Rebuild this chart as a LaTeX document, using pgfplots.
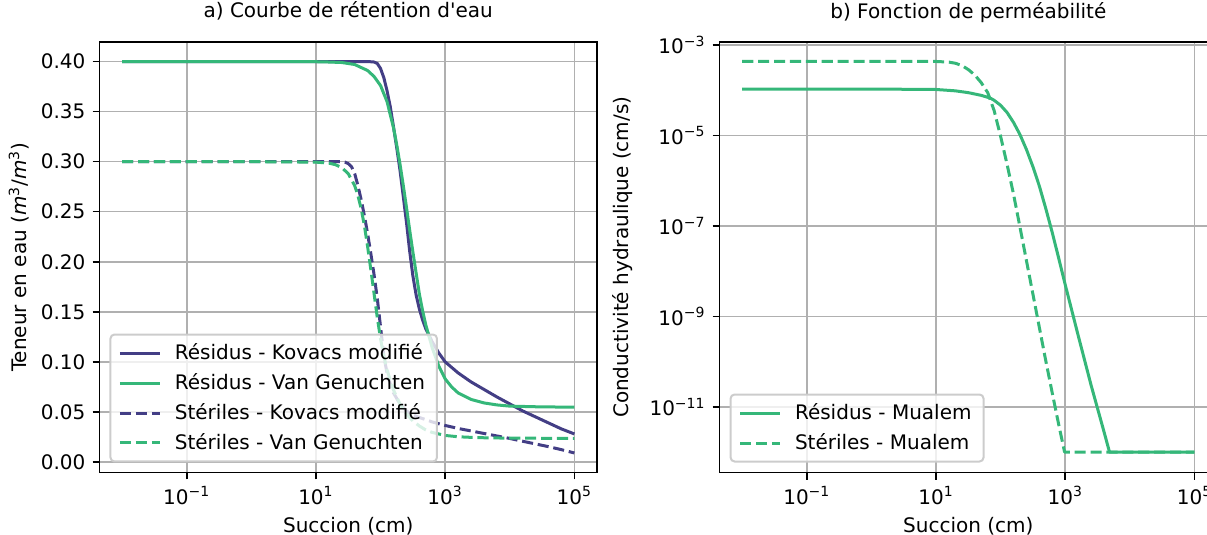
\documentclass[border=0pt]{standalone}
\usepackage{fontspec}
\setmainfont{DejaVu Sans}[Ligatures=TeXOff]
\usepackage{pgfplots}
\pgfplotsset{compat=1.18}
\definecolor{cpurple}{HTML}{433E85}
\definecolor{cgreen}{HTML}{35B779}
\definecolor{cgrid}{HTML}{B0B0B0}
\definecolor{cleg}{HTML}{CCCCCC}
\tikzset{
  solidline/.style={line width=1.5pt, line join=round},
  dashline/.style={line width=1.5pt, line join=round, dash pattern=on 5.55pt off 2.4pt},
}
\begin{document}
\begin{tikzpicture}
\begin{axis}[at={(49.75pt,31.25pt)}, anchor=south west,
  scale only axis, width=248.75pt, height=215.25pt,
  xmode=log, xmin=0.0044668, xmax=223872,
  xtick={0.1,10,1000,100000},
  xticklabels={10\textsuperscript{−1},10\textsuperscript{1},10\textsuperscript{3},10\textsuperscript{5}},
  xminorticks=false, yminorticks=false,
  grid=major, major grid style={draw=cgrid, line width=0.8pt},
  axis line style={line width=0.8pt, black},
  tick align=outside, major tick length=3.5pt,
  every tick/.style={black, line width=0.8pt},
  xtick pos=bottom, ytick pos=left,
  xlabel={Succion (cm)},
  xlabel style={at={(axis description cs:0.5,0)}, anchor=base, yshift=-30.1pt, inner sep=0pt},
  title style={at={(axis description cs:0.5,1)}, anchor=base, yshift=6pt, inner sep=0pt},
  legend cell align=left,
  legend image code/.code={\draw[#1] (0pt,0pt) -- (20pt,0pt);},
  legend style={at={(axis description cs:0,0)}, anchor=south west, xshift=5pt, yshift=5pt,
    draw=cleg, line width=1pt, fill=white, fill opacity=0.8, text opacity=1,
    rounded corners=2pt, inner xsep=4pt, inner ysep=2.5pt, row sep=1.5pt, column sep=4.7pt},
  ymin=-0.0105, ymax=0.4195,
  ytick={0,0.05,0.1,0.15,0.2,0.25,0.3,0.35,0.4},
  yticklabel style={/pgf/number format/.cd, fixed, fixed zerofill, precision=2, assume math mode=true},
  title={a) Courbe de rétention d'eau},
  ylabel={Teneur en eau (\textit{m}\textsuperscript{3}/\textit{m}\textsuperscript{3})},
  ylabel style={at={(axis description cs:-0.1411,0.5)}, anchor=south, inner sep=0pt},
]
\addplot[solidline, cpurple] coordinates {
(0.01,0.400) (63.096,0.400) (79.433,0.3995) (89.125,0.398) (100,0.393) (112.20,0.384)
(125.89,0.371) (141.25,0.355) (158.49,0.335) (177.83,0.314) (199.53,0.292) (223.87,0.266)
(251.19,0.240) (281.84,0.211) (316.23,0.186) (354.81,0.167) (398.11,0.153) (446.68,0.142)
(501.19,0.133) (630.96,0.120) (794.33,0.109) (1000,0.100) (1584.9,0.089) (2511.9,0.080)
(3981.1,0.0725) (6309.6,0.065) (10000,0.058) (15849,0.051) (25119,0.045) (39811,0.039)
(63096,0.033) (100000,0.028)};
\addlegendentry{Résidus - Kovacs modifié}
\addplot[solidline, cgreen] coordinates {
(0.01,0.400) (1,0.400) (10,0.3998) (15.849,0.3995) (25.119,0.399) (39.811,0.397)
(63.096,0.391) (79.433,0.385) (100,0.376) (125.89,0.360) (158.49,0.334) (177.83,0.317)
(199.53,0.298) (223.87,0.277) (251.19,0.255) (281.84,0.232) (316.23,0.210) (354.81,0.189)
(398.11,0.168) (446.68,0.1515) (501.19,0.137) (630.96,0.114) (794.33,0.096) (1000,0.083)
(1258.9,0.075) (1584.9,0.069) (2511.9,0.0625) (3981.1,0.059) (6309.6,0.057) (10000,0.0558)
(31623,0.0550) (100000,0.0548)};
\addlegendentry{Résidus - Van Genuchten}
\addplot[dashline, cpurple] coordinates {
(0.01,0.300) (25.119,0.300) (28.184,0.2995) (31.623,0.298) (35.481,0.295) (39.811,0.288)
(44.668,0.276) (50.119,0.262) (56.234,0.246) (63.096,0.228) (70.795,0.208) (79.433,0.187)
(89.125,0.163) (100,0.135) (107.15,0.118) (112.20,0.106) (125.89,0.089) (141.25,0.078)
(158.49,0.069) (199.53,0.058) (251.19,0.051) (316.23,0.047) (398.11,0.0445) (630.96,0.040)
(1000,0.0365) (1584.9,0.0335) (2511.9,0.031) (3981.1,0.0285) (6309.6,0.026) (10000,0.0235)
(15849,0.0207) (25119,0.018) (39811,0.0153) (63096,0.0123) (100000,0.0090)};
\addlegendentry{Stériles - Kovacs modifié}
\addplot[dashline, cgreen] coordinates {
(0.01,0.300) (1,0.300) (10,0.2995) (15.849,0.2985) (19.953,0.297) (25.119,0.294)
(31.623,0.288) (39.811,0.276) (44.668,0.266) (50.119,0.253) (56.234,0.236) (63.096,0.215)
(70.795,0.192) (79.433,0.168) (89.125,0.144) (100,0.123) (112.20,0.106) (125.89,0.092)
(158.49,0.072) (199.53,0.058) (251.19,0.048) (316.23,0.041) (398.11,0.036) (501.19,0.032)
(630.96,0.0295) (1000,0.0265) (1584.9,0.0252) (3162.3,0.0243) (10000,0.0238) (100000,0.0236)};
\addlegendentry{Stériles - Van Genuchten}
\end{axis}
\begin{axis}[at={(359.8pt,31.25pt)}, anchor=south west,
  scale only axis, width=248.75pt, height=215.25pt,
  xmode=log, xmin=0.0044668, xmax=223872,
  xtick={0.1,10,1000,100000},
  xticklabels={10\textsuperscript{−1},10\textsuperscript{1},10\textsuperscript{3},10\textsuperscript{5}},
  xminorticks=false, yminorticks=false,
  grid=major, major grid style={draw=cgrid, line width=0.8pt},
  axis line style={line width=0.8pt, black},
  tick align=outside, major tick length=3.5pt,
  every tick/.style={black, line width=0.8pt},
  xtick pos=bottom, ytick pos=left,
  xlabel={Succion (cm)},
  xlabel style={at={(axis description cs:0.5,0)}, anchor=base, yshift=-30.1pt, inner sep=0pt},
  title style={at={(axis description cs:0.5,1)}, anchor=base, yshift=6pt, inner sep=0pt},
  legend cell align=left,
  legend image code/.code={\draw[#1] (0pt,0pt) -- (20pt,0pt);},
  legend style={at={(axis description cs:0,0)}, anchor=south west, xshift=5pt, yshift=5pt,
    draw=cleg, line width=1pt, fill=white, fill opacity=0.8, text opacity=1,
    rounded corners=2pt, inner xsep=4pt, inner ysep=2.5pt, row sep=1.5pt, column sep=4.7pt},
  ymode=log, ymin=3.548e-13, ymax=1.175e-3,
  ytick={1e-11,1e-9,1e-7,1e-5,1e-3},
  yticklabels={10\textsuperscript{−11},10\textsuperscript{−9},10\textsuperscript{−7},10\textsuperscript{−5},10\textsuperscript{−3}},
  title={b) Fonction de perméabilité},
  ylabel={Conductivité hydraulique (cm/s)},
  ylabel style={at={(axis description cs:-0.1735,0.5)}, anchor=south, inner sep=0pt},
]
\addplot[solidline, cgreen] coordinates {
(0.01,1.0715e-4) (1,1.0715e-4) (10,1.047e-4) (19.953,9.772e-5) (31.623,8.9125e-5)
(50.119,7.7625e-5) (69.183,6.761e-5) (79.433,6.026e-5) (100,4.677e-5) (125.89,3.236e-5)
(158.49,1.950e-5) (199.53,1.047e-5) (251.19,4.898e-6) (316.23,2.042e-6) (398.11,7.586e-7)
(501.19,2.399e-7) (630.96,7.080e-8) (794.33,1.905e-8) (1000,5.012e-9) (1584.9,3.802e-10)
(2511.9,3.020e-11) (3981.1,2.818e-12) (4841.7,1e-12) (100000,1e-12)};
\addlegendentry{Résidus - Mualem}
\addplot[dashline, cgreen] coordinates {
(0.01,4.406e-4) (10,4.365e-4) (15.849,4.217e-4) (19.953,3.981e-4) (25.119,3.548e-4)
(31.623,2.884e-4) (39.811,2.188e-4) (50.119,1.479e-4) (63.096,8.913e-5) (79.433,3.548e-5)
(100,9.550e-6) (125.89,2.291e-6) (158.49,5.012e-7) (199.53,9.333e-8) (251.19,1.698e-8)
(316.23,3.090e-9) (398.11,5.623e-10) (501.19,1.023e-10) (630.96,1.995e-11) (794.33,3.981e-12)
(977.24,1e-12) (100000,1e-12)};
\addlegendentry{Stériles - Mualem}
\end{axis}
\pgfresetboundingbox
\path[use as bounding box] (0,0) rectangle (603.5pt,267.5pt);
\end{tikzpicture}
\end{document}
